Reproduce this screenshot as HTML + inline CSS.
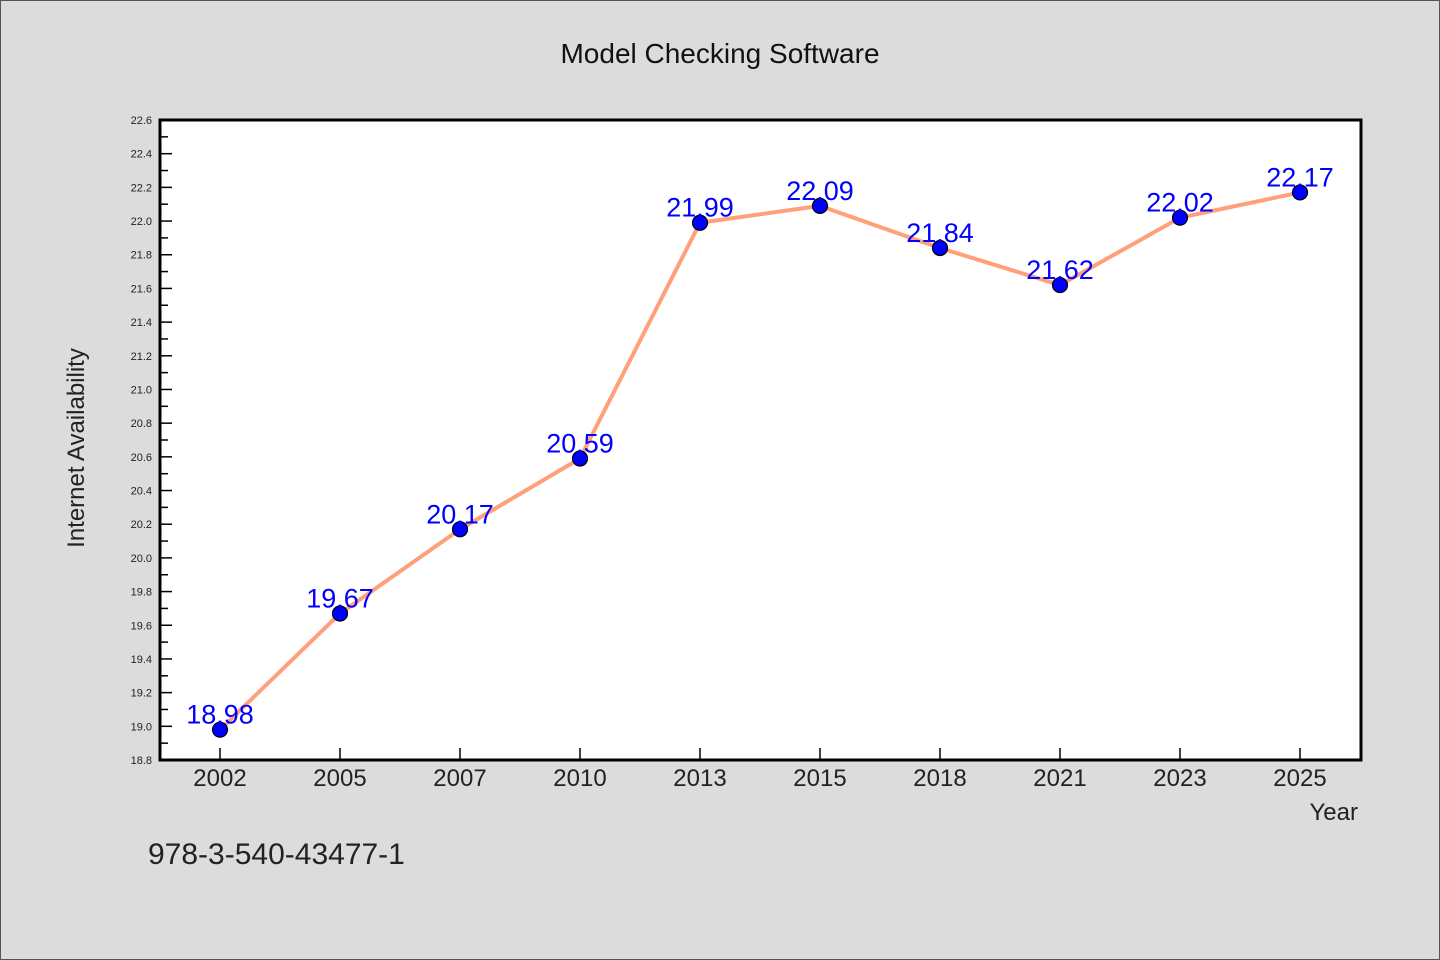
<!DOCTYPE html>
<html><head><meta charset="utf-8"><style>
html,body{margin:0;padding:0;background:#dcdcdc;}
svg{display:block;font-family:"WenQuanYi Zen Hei","Liberation Sans",sans-serif;}
</style></head><body>
<svg id="chart" width="1440" height="960" xmlns="http://www.w3.org/2000/svg">
<rect x="0.5" y="0.5" width="1439" height="959" fill="#dcdcdc" stroke="#555"/>
<text x="720" y="63" text-anchor="middle" font-size="28" fill="#111">Model Checking Software</text>
<rect x="160" y="120" width="1201" height="640" fill="#fff"/>
<g id="yaxis"></g>
<g id="xaxis"></g>
<g id="series"></g>
<rect x="160" y="120" width="1201" height="640" fill="none" stroke="#000" stroke-width="3"/>
<text transform="translate(84,448) rotate(-90)" text-anchor="middle" font-size="24" fill="#222">Internet Availability</text>
<text x="1358" y="820" text-anchor="end" font-size="24" fill="#222">Year</text>
<text x="148" y="864" font-size="30" fill="#222">978-3-540-43477-1</text>
</svg>
<script>
const categories = ["2002","2005","2007","2010","2013","2015","2018","2021","2023","2025"];
const values = [18.98,19.67,20.17,20.59,21.99,22.09,21.84,21.62,22.02,22.17];
const yTicks = [18.8,19.0,19.2,19.4,19.6,19.8,20.0,20.2,20.4,20.6,20.8,21.0,21.2,21.4,21.6,21.8,22.0,22.2,22.4,22.6];
const yMin = 18.8, yMax = 22.6;
const L=160,R=1361,T=120,B=760;
const NS="http://www.w3.org/2000/svg";
function y(v){return B-(v-yMin)/(yMax-yMin)*(B-T);}
function x(i){return 220+i*120;}
function mk(tag,attrs,parent){const e=document.createElementNS(NS,tag);for(const k in attrs)e.setAttribute(k,attrs[k]);parent.appendChild(e);return e;}
const ya=document.getElementById('yaxis');
yTicks.forEach((t,i)=>{
  const ln=mk('line',{x1:L,x2:L+12,y1:y(t),y2:y(t),stroke:'#000','stroke-width':1.5},ya);
  
  
  if(i<yTicks.length-1){const m=(t+yTicks[i+1])/2;const mn=mk('line',{x1:L,x2:L+8,y1:y(m),y2:y(m),stroke:'#000','stroke-width':1.5},ya);
  
  }
  const tx=mk('text',{x:152,y:y(t)+4,'text-anchor':'end','font-size':11,fill:'#222'},ya);
  
  
  tx.textContent=t.toFixed(1);
});
const xa=document.getElementById('xaxis');
categories.forEach((c,i)=>{
  const ln=mk('line',{x1:x(i),x2:x(i),y1:B,y2:B-12,stroke:'#000','stroke-width':1.5},xa);
  
  
  const tx=mk('text',{x:x(i),y:786,'text-anchor':'middle','font-size':24,fill:'#222'},xa);
  
  
  tx.textContent=c;
});
const s=document.getElementById('series');
const pl=mk('polyline',{points:values.map((v,i)=>x(i)+','+y(v)).join(' '),fill:'none',stroke:'#ffa07a','stroke-width':4,'stroke-linejoin':'round'},s);


values.forEach((v,i)=>{
  const c=mk('circle',{cx:x(i),cy:y(v),r:7.5,fill:'#0000ff',stroke:'#000','stroke-width':1.2},s);
  
  
  const t=mk('text',{x:x(i),y:y(v)-6,'text-anchor':'middle','font-size':27,fill:'#0000ff'},s);
  
  
  t.textContent=v.toFixed(2);
});
</script>
</body></html>
